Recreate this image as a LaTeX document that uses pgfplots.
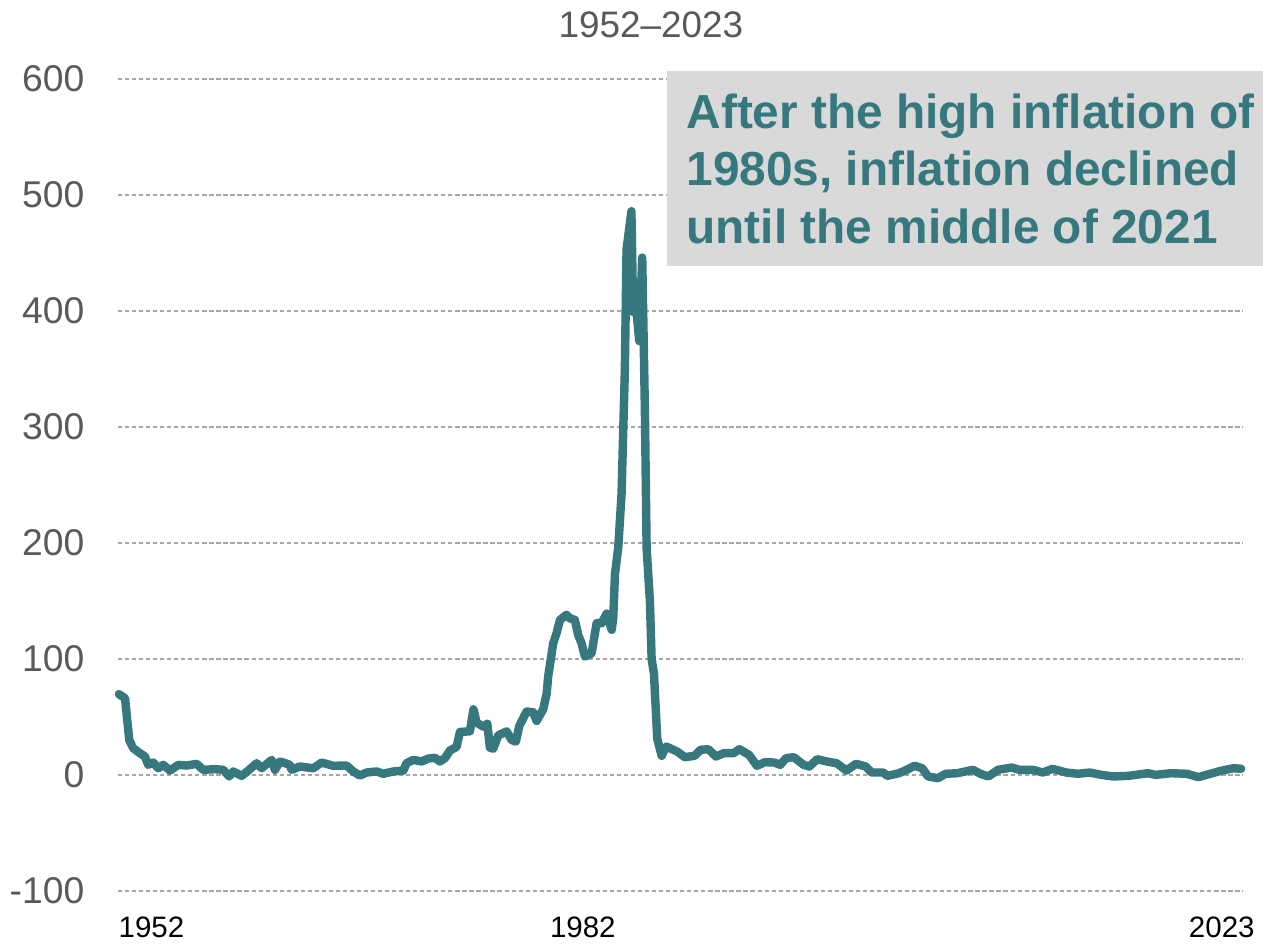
\documentclass[border=0pt]{standalone}
\usepackage{pgfplots}
\pgfplotsset{compat=1.18}
\usepackage{fontspec}
\setmainfont{Liberation Sans}
\definecolor{tealline}{RGB}{55,120,127}
\definecolor{boxgrey}{RGB}{217,217,217}
\definecolor{labgrey}{RGB}{89,89,89}
\definecolor{gridgrey}{RGB}{166,166,166}
\begin{document}
\begin{tikzpicture}
\begin{axis}[
  name=ax,
  scale only axis,
  width=11.25cm, height=8.12cm,
  xmin=1952, xmax=2023.79,
  ymin=-100, ymax=600,
  ytick={-100,0,100,200,300,400,500,600},
  yticklabels={-100,0,100,200,300,400,500,600},
  xtick={1954.14,1981.67,2022.45},
  xticklabels={1952,1982,2023},
  major tick length=0pt,
  tick style={draw=none},
  axis line style={draw=none},
  ymajorgrids=true,
  major grid style={gridgrey, line width=0.5pt, dash pattern=on 1.2pt off 0.8pt},
  yticklabel style={font=\fontsize{10.6}{12}\selectfont, text=labgrey, anchor=east, inner sep=0pt, xshift=-0.33cm},
  xticklabel style={font=\fontsize{8.4}{10}\selectfont, text=black, anchor=north, inner sep=0pt, yshift=-0.257cm},
  clip=false,
]
\addplot[tealline, line width=2.4pt, line join=round, line cap=round] coordinates {
(1952.06,69.6) (1952.45,66) (1952.72,30) (1952.97,23) (1953.40,18.7) (1953.72,15.8)
(1953.93,8.6) (1954.25,10.6) (1954.57,5.7) (1954.89,8.6) (1955.32,3.7) (1955.85,8.6)
(1956.38,8) (1957.02,9.5) (1957.44,4.3) (1958.19,4.9) (1958.72,4.3) (1959.10,-1.4)
(1959.36,2.9) (1959.89,-0.9) (1960.32,3.7) (1960.85,10) (1961.17,5.7) (1961.81,12.9)
(1962.02,4.3) (1962.34,11.5) (1962.98,8.6) (1963.08,4.3) (1963.61,7.2) (1964.46,5.7)
(1965.00,10.6) (1965.74,7.8) (1966.59,8) (1967.02,2.9) (1967.44,-0.6) (1967.87,2)
(1968.51,2.9) (1968.93,0.9) (1969.57,2.9) (1970.21,3.7) (1970.42,10) (1970.85,12.9)
(1971.38,11.5) (1971.80,14) (1972.23,14.7) (1972.55,11.5) (1972.87,14.4) (1973.19,21)
(1973.61,24) (1973.83,37) (1974.46,37.5) (1974.69,56.5) (1974.89,45) (1975.31,41.6)
(1975.57,44) (1975.74,23.5) (1975.95,22.5) (1976.27,34) (1976.81,37.5) (1977.12,30)
(1977.40,28.7) (1977.61,42) (1978.08,54.6) (1978.50,54) (1978.72,46.5) (1979.14,56.5)
(1979.36,70) (1979.46,85) (1979.78,113.5) (1979.99,122) (1980.21,133.6) (1980.63,138)
(1980.84,135) (1981.16,133.6) (1981.37,120.7) (1981.59,113.5) (1981.80,102) (1982.23,104.7)
(1982.55,130.8) (1982.87,130.8) (1983.19,139) (1983.51,125) (1983.61,135) (1983.72,173)
(1983.93,196) (1984.14,242) (1984.35,348) (1984.46,453) (1984.77,486) (1984.88,399)
(1985.06,405) (1985.27,374) (1985.46,446) (1985.63,315) (1985.74,196) (1985.95,150)
(1986.06,100) (1986.21,87) (1986.42,31) (1986.70,16.4) (1986.99,24.4) (1987.69,20.1)
(1988.18,15.2) (1988.80,16.4) (1989.18,21.6) (1989.68,22.1) (1990.17,15.8) (1990.67,18.7)
(1991.29,18.7) (1991.66,22.1) (1992.28,17.2) (1992.78,7.8) (1993.28,10.9) (1993.90,10.6)
(1994.27,8.6) (1994.64,14.4) (1995.14,15.2) (1995.76,8.6) (1996.13,7.2) (1996.63,13.5)
(1997.25,11.5) (1997.87,10) (1998.49,3.7) (1999.11,9.5) (1999.73,7.2) (2000.10,2)
(2000.85,2) (2001.10,-0.9) (2001.84,1.4) (2002.34,4.3) (2002.84,7.8) (2003.33,5.7)
(2003.70,-1.4) (2004.33,-2.9) (2004.82,0.9) (2005.57,1.4) (2006.56,4.3) (2007.05,0.9)
(2007.55,-1.4) (2008.17,4.3) (2009.04,6.3) (2009.54,4.3) (2010.41,4.3) (2011.03,2)
(2011.65,5.2) (2012.52,2) (2013.26,0.9) (2014.01,2) (2014.76,0) (2015.50,-1.4)
(2016.49,-0.9) (2017.73,1.4) (2018.23,0) (2019.22,1.4) (2020.22,0.9) (2020.96,-2)
(2021.71,0.9) (2022.45,3.7) (2023.20,5.7) (2023.69,5.2)
};
\fill[boxgrey] (rel axis cs:0.488,0.7697) rectangle (rel axis cs:1.018,1.0099);
\node[anchor=north west, inner sep=0pt, align=left, text=tealline,
      font=\fontsize{13.6}{16.3}\selectfont\bfseries]
  at (rel axis cs:0.5049,0.9823)
  {After the high inflation of\\1980s, inflation declined\\until the middle of 2021};
\node[anchor=base, inner sep=0pt, text=labgrey, font=\fontsize{10.5}{12}\selectfont]
  at (rel axis cs:0.4738,1.0513) {1952–2023};
\end{axis}
\path[use as bounding box] ([shift={(-1.18cm,-0.56cm)}]ax.south west) rectangle ([shift={(11.45cm,8.91cm)}]ax.south west);
\end{tikzpicture}
\end{document}
